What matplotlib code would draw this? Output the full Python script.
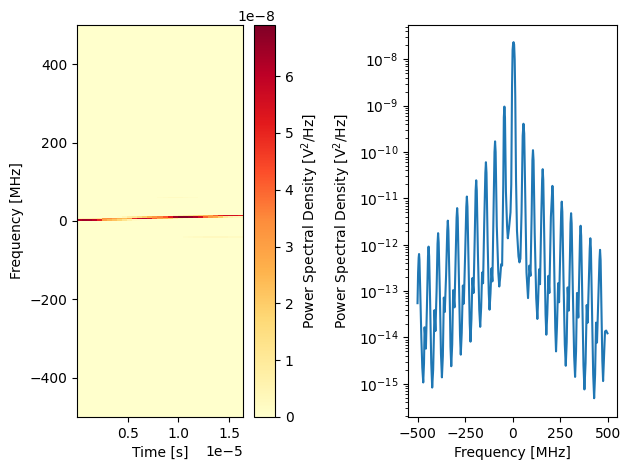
import numpy as np
import matplotlib
matplotlib.use("Agg")
from matplotlib import pyplot as plt

# spectrum: frequency in MHz, log10 of the PSD
spec_freq = [
    -500, -497, -494, -492, -490, -486, -480, -475,
    -470, -466, -463, -460, -456, -451, -445, -442, -439, -434, -428,
    -423, -418, -411, -409, -406, -400, -395, -392, -389, -383, -377,
    -372, -367, -362, -360, -357, -350, -344, -341, -338, -332, -327,
    -323, -318, -313, -310, -306, -300, -295, -292, -289, -283, -277,
    -273, -268, -262, -260, -257, -250, -244, -241, -238, -232, -226,
    -222, -217, -212, -209, -206, -200, -195, -192, -189, -183, -176,
    -171, -166, -161, -159, -156, -150, -144, -141, -138, -132, -126,
    -122, -117, -112, -110, -107, -101, -96, -93, -90, -84, -76,
    -71, -66, -61, -58, -56, -50, -47, -44, -41, -36, -30,
    -26, -20, -12, -8, -4, -1, 2, 4, 7, 10, 13, 17, 22, 30,
    35, 40, 46, 52, 56, 60, 66, 72,
    80, 84, 87, 90, 93, 99, 103, 106, 109, 115, 123,
    129, 133, 138, 140, 143, 150, 154, 157, 160, 166, 172,
    176, 181, 187, 189, 192, 200, 205, 208, 211, 217, 223,
    227, 232, 238, 240, 243, 250, 254, 257, 260, 266, 273,
    278, 283, 288, 291, 294, 300, 303, 306, 309, 315, 322,
    327, 332, 337, 340, 344, 350, 353, 356, 359, 365, 371,
    376, 382, 388, 390, 393, 400, 404, 407, 410, 416, 422,
    427, 432, 437, 439, 442, 450, 455, 458, 461, 466, 470,
    474, 478, 484, 490, 497,
]
spec_log = [
    -13.26, -12.60, -12.28, -12.20, -12.32, -12.95, -14.00, -14.65,
    -14.97, -14.55, -13.78, -13.95, -14.24, -13.40, -12.25, -12.04, -12.25, -13.20, -14.55,
    -15.08, -14.70, -13.41, -13.60, -13.86, -13.00, -11.98, -11.75, -11.95, -13.00, -14.35,
    -14.86, -14.40, -13.14, -13.25, -13.45, -12.65, -11.70, -11.48, -11.70, -12.85, -14.20,
    -14.62, -14.15, -12.98, -13.15, -13.35, -12.35, -11.42, -11.21, -11.42, -12.70, -13.95,
    -14.37, -13.90, -12.88, -13.05, -13.27, -12.20, -11.18, -10.96, -11.18, -12.45, -13.70,
    -14.09, -13.60, -12.72, -12.88, -13.04, -11.90, -10.83, -10.61, -10.83, -12.20, -13.40,
    -13.77, -13.35, -12.60, -12.68, -12.83, -11.55, -10.45, -10.22, -10.45, -11.95, -13.05,
    -13.40, -13.05, -12.51, -12.62, -12.79, -11.25, -10.00, -9.77, -10.00, -11.60, -12.60,
    -12.90, -12.70, -12.42, -12.43, -12.45, -10.70, -9.25, -9.02, -9.25, -10.85, -11.60,
    -11.86, -11.65, -11.30, -10.70, -8.60, -7.80, -7.65, -7.63, -7.68, -8.00, -8.80, -10.60, -11.70, -12.25,
    -12.38, -12.30, -11.30, -9.65, -9.39, -9.60, -11.10, -12.60,
    -13.15, -12.80, -12.45, -12.55, -12.67, -11.35, -10.18, -9.96, -10.18, -11.75, -13.15,
    -13.60, -13.20, -12.53, -12.65, -12.85, -11.30, -10.60, -10.37, -10.60, -12.10, -13.50,
    -13.94, -13.50, -12.67, -12.82, -13.04, -11.40, -10.95, -10.73, -10.95, -12.40, -13.80,
    -14.30, -13.75, -12.83, -13.00, -13.24, -11.95, -11.29, -11.07, -11.29, -12.70, -14.15,
    -14.61, -14.10, -12.92, -13.15, -13.42, -12.25, -11.54, -11.32, -11.54, -12.95, -14.40,
    -14.85, -14.30, -13.04, -13.25, -13.57, -12.40, -11.81, -11.59, -11.81, -13.20, -14.60,
    -15.12, -14.55, -13.30, -13.45, -13.68, -12.70, -12.08, -11.86, -12.08, -13.45, -14.80,
    -15.31, -14.80, -13.68, -13.85, -14.11, -13.00, -12.33, -12.11, -12.33, -13.60, -14.50,
    -14.94, -14.50, -13.87, -13.85, -13.91,
]
spec_xticks = [-500, -250, 0, 250, 500]

# ridge of the spectrogram, one value per time column, in units of 1e-8
ridge_2mhz = [6.2, 6.4, 6.3, 6.0, 5.0, 3.0, 2.5, 2.2, 1.8, 1.2, 0.6, 0.2, 0.1, 0, 0, 0, 0,
              0, 0, 0, 0, 0, 0, 0, 0, 0, 0, 0, 0, 0, 0, 0, 0]
ridge_6mhz = [0.5, 0.6, 0.7, 0.9, 1.2, 3.2, 3.4, 3.0, 2.6, 2.4, 3.0, 5.0, 5.8, 6.0, 5.5, 4.0, 3.0,
              2.5, 2.0, 1.0, 0.5, 0.2, 0.1, 0, 0, 0, 0, 0, 0, 0, 0, 0, 0]
ridge_10mhz = [0, 0, 0, 0, 0, 0, 0, 0, 0.1, 0.4, 0.8, 1.0, 1.5, 2.0, 2.6, 3.2, 3.6,
               4.2, 5.2, 6.4, 6.8, 6.8, 6.6, 6.2, 5.5, 4.0, 3.2, 2.8, 2.0, 1.0, 0.6, 0.4, 0.3]
ridge_14mhz = [0, 0, 0, 0, 0, 0, 0, 0, 0, 0, 0, 0, 0, 0, 0, 0, 0,
               0, 0, 0.3, 0.6, 0.9, 1.2, 1.6, 2.0, 2.5, 3.0, 4.0, 5.0, 5.5, 5.5, 5.5, 5.2]
# faint side lines above and below the ridge
ghost_60mhz = [0, 0, 0, 0, 0, 0, 0, 0, 0, 0, 0, 0, 0, 0, 0, 0, 0.1,
               0.15, 0.2, 0.2, 0.2, 0.15, 0.1, 0.1, 0, 0, 0, 0, 0, 0, 0, 0, 0]
ghost_m40mhz = [0, 0, 0, 0, 0, 0, 0, 0, 0, 0, 0, 0, 0, 0, 0, 0, 0,
                0, 0, 0, 0, 0.1, 0.15, 0.2, 0.2, 0.25, 0.25, 0.25, 0.25, 0.25, 0.2, 0.2, 0.2]
row_freqs = [2, 6, 10, 14, 60, -40]

t_start = 2e-8
t_stop = 1.635e-5
vmax = 6.9e-8

f_edges = np.linspace(-500, 500, 257)
f_mid = 0.5 * (f_edges[:-1] + f_edges[1:])

Sxx = np.zeros((len(f_mid), len(ridge_2mhz)))
rows = [ridge_2mhz, ridge_6mhz, ridge_10mhz, ridge_14mhz, ghost_60mhz, ghost_m40mhz]
for f, row in zip(row_freqs, rows):
    Sxx[np.argmin(np.abs(f_mid - f)), :] = np.array(row) * 1e-8

fig = plt.figure(figsize=(6.3, 4.7), dpi=100)
W, H = 630.0, 470.0
ax1 = fig.add_axes([77 / W, 1 - 417 / H, 166 / W, 392 / H])
cax = fig.add_axes([254 / W, 1 - 417 / H, 21 / W, 392 / H])
ax2 = fig.add_axes([408 / W, 1 - 417 / H, 209 / W, 392 / H])

im = ax1.imshow(Sxx, origin="lower", aspect="auto", cmap="YlOrRd", vmin=0, vmax=vmax,
                interpolation="nearest", extent=[t_start, t_stop, -500, 500])
ax1.set_xlabel("Time [s]")
ax1.set_ylabel("Frequency [MHz]")
cbar = fig.colorbar(im, cax=cax)
cbar.set_label("Power Spectral Density [V$^2$/Hz]")

ax2.semilogy(spec_freq, 10.0 ** np.array(spec_log))
ax2.set_xlim(-550, 547)
ax2.set_ylim(10.0 ** -15.715, 10.0 ** -7.26)
ax2.set_xticks(spec_xticks)
ax2.set_xlabel("Frequency [MHz]")
ax2.set_ylabel("Power Spectral Density [V$^2$/Hz]")

plt.savefig("out.png", dpi=100)
